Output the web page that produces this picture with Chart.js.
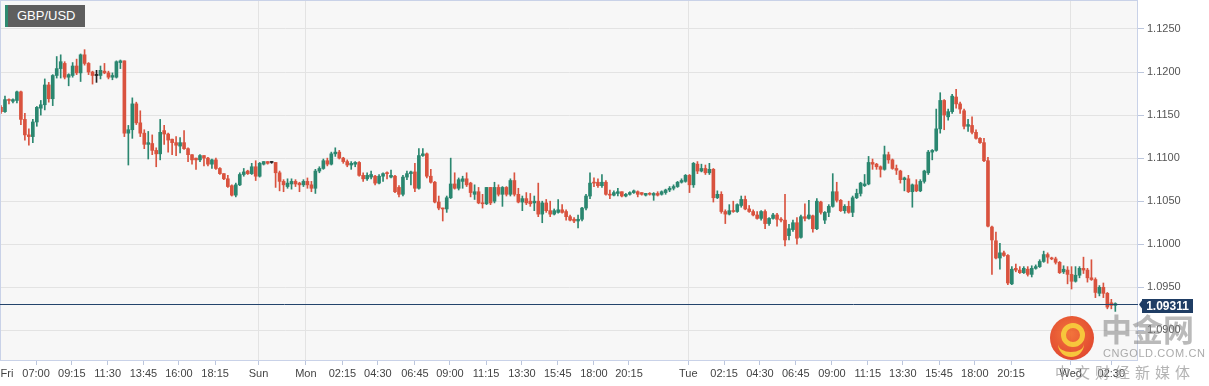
<!DOCTYPE html>
<html>
<head>
<meta charset="utf-8">
<script src="https://cdn.jsdelivr.net/npm/chart.js@4.4.1/dist/chart.umd.min.js"></script>
<style>
  html, body { margin: 0; padding: 0; background: #fff; }
  #wrap { position: relative; width: 1209px; height: 386px; overflow: hidden; font-family: "Liberation Sans", Arial, sans-serif; }
  #wrap canvas { position: absolute; left: 0; top: 0; }
  .tag { position: absolute; left: 5px; top: 5px; width: 80px; height: 22px; box-sizing: border-box;
         background: #5e5e5e; border-left: 3px solid #2e8a70; color: #fff; font-size: 13px; line-height: 22px; padding-left: 9px; }
  .wm { position: absolute; white-space: nowrap; pointer-events: none; }
  .logo { left: 1050px; top: 316px; width: 44px; height: 44px; border-radius: 50%;
          background: radial-gradient(circle at 45% 40%, #f26a2c, #d92a1a); opacity: 0.92; }
  .logo i { position: absolute; left: 11px; top: 7px; width: 14px; height: 14px; border: 5px solid #f7c22c; border-radius: 50%; }
  .logo b { position: absolute; left: 8px; top: 26px; width: 26px; height: 10px; border-bottom: 5px solid #f7c22c; border-radius: 0 0 20px 20px; }
</style>
</head>
<body>
<div id="wrap">
  <canvas id="chart" width="1209" height="386"></canvas>
  <div class="tag">GBP/USD</div>
  <div class="wm logo"><i></i><b></b></div>
  <div class="wm" style="left:1101px;top:312px;font:bold 31px 'Noto Sans CJK SC',sans-serif;line-height:1;color:rgba(130,130,130,0.55);">中金网</div>
  <div class="wm" style="left:1103px;top:347px;font-size:11px;letter-spacing:0.6px;color:rgba(150,150,150,0.8);">CNGOLD.COM.CN</div>
  <div class="wm" style="left:1055px;top:361px;font:15px 'Noto Sans CJK SC',sans-serif;letter-spacing:5px;color:rgba(160,160,160,0.8);">中文财经新媒体</div>
</div>
<script>
// GBP/USD 15 min candles, Fri 04:45 -> Wed 02:30
const opens = [
  1.1159,1.1154,1.1168,1.1166,1.1167,1.1177,1.1145,1.1127,1.1125,1.1142,
  1.1158,1.1162,1.1185,1.1169,1.1196,1.1204,1.1210,1.1194,1.1196,1.1207,
  1.1199,1.1220,1.1210,1.1200,1.1196,1.1196,1.1201,1.1199,1.1194,1.1194,
  1.1211,1.1213,1.1129,1.1133,1.1163,1.1141,1.1129,1.1116,1.1117,1.1109,
  1.1105,1.1132,1.1128,1.1122,1.1118,1.1114,1.1118,1.1111,1.1104,1.1100,
  1.1098,1.1103,1.1100,1.1093,1.1098,1.1088,1.1082,1.1076,1.1068,1.1057,
  1.1069,1.1081,1.1085,1.1082,1.1090,1.1079,1.1093,1.1096,1.1095,1.1095,
  1.1083,1.1073,1.1067,1.1070,1.1073,1.1071,1.1069,1.1073,1.1069,1.1065,
  1.1085,1.1088,1.1097,1.1093,1.1105,1.1107,1.1100,1.1096,1.1092,1.1093,
  1.1095,1.1080,1.1076,1.1078,1.1079,1.1071,1.1079,1.1083,1.1078,1.1079,
  1.1066,1.1058,1.1078,1.1082,1.1084,1.1065,1.1103,1.1105,1.1079,1.1072,
  1.1049,1.1042,1.1041,1.1054,1.1070,1.1065,1.1073,1.1076,1.1071,1.1058,
  1.1061,1.1048,1.1047,1.1066,1.1050,1.1066,1.1058,1.1066,1.1058,1.1074,
  1.1058,1.1049,1.1053,1.1050,1.1048,1.1050,1.1035,1.1048,1.1039,1.1035,
  1.1037,1.1040,1.1038,1.1032,1.1029,1.1027,1.1029,1.1042,1.1056,1.1072,
  1.1072,1.1068,1.1072,1.1058,1.1057,1.1059,1.1061,1.1056,1.1058,1.1060,
  1.1061,1.1060,1.1057,1.1059,1.1057,1.1059,1.1058,1.1060,1.1063,1.1065,
  1.1067,1.1072,1.1073,1.1080,1.1069,1.1093,1.1085,1.1088,1.1083,1.1087,
  1.1054,1.1058,1.1038,1.1035,1.1039,1.1038,1.1045,1.1052,1.1041,1.1038,
  1.1034,1.1030,1.1038,1.1024,1.1030,1.1034,1.1029,1.1028,1.1010,1.1017,
  1.1025,1.1008,1.1032,1.1030,1.1033,1.1018,1.1049,1.1028,1.1037,1.1044,
  1.1061,1.1051,1.1039,1.1044,1.1037,1.1054,1.1059,1.1068,1.1070,1.1095,
  1.1093,1.1090,1.1087,1.1104,1.1098,1.1088,1.1085,1.1075,1.1076,1.1061,
  1.1069,1.1062,1.1073,1.1083,1.1107,1.1109,1.1134,1.1167,1.1148,1.1154,
  1.1171,1.1163,1.1155,1.1137,1.1138,1.1130,1.1123,1.1118,1.1097,1.1020,
  1.1004,1.0984,1.0990,1.0987,1.0954,1.0972,1.0970,1.0967,1.0971,1.0965,
  1.0972,1.0974,1.0980,1.0988,1.0984,1.0983,1.0979,1.0968,1.0970,1.0965,
  1.0957,1.0964,1.0972,1.0970,1.0961,1.0959,1.0943,1.0950,1.0943,1.0932,1.0929
];
const highs = [
  1.1161,1.1172,1.1169,1.1169,1.1178,1.1178,1.1152,1.1134,1.1145,1.1160,
  1.1167,1.1192,1.1188,1.1197,1.1218,1.1220,1.1212,1.1198,1.1211,1.1215,
  1.1221,1.1226,1.1211,1.1201,1.1202,1.1207,1.1210,1.1201,1.1199,1.1213,
  1.1214,1.1213,1.1138,1.1170,1.1165,1.1155,1.1133,1.1131,1.1127,1.1112,
  1.1145,1.1138,1.1129,1.1122,1.1125,1.1124,1.1132,1.1112,1.1104,1.1100,
  1.1104,1.1103,1.1101,1.1099,1.1100,1.1089,1.1082,1.1080,1.1069,1.1071,
  1.1083,1.1088,1.1086,1.1094,1.1097,1.1095,1.1096,1.1096,1.1096,1.1095,
  1.1085,1.1075,1.1076,1.1076,1.1075,1.1072,1.1075,1.1077,1.1073,1.1087,
  1.1090,1.1099,1.1100,1.1107,1.1112,1.1109,1.1101,1.1098,1.1096,1.1096,
  1.1096,1.1083,1.1083,1.1085,1.1080,1.1081,1.1083,1.1084,1.1086,1.1080,
  1.1068,1.1080,1.1085,1.1085,1.1094,1.1111,1.1111,1.1106,1.1087,1.1073,
  1.1056,1.1042,1.1056,1.1100,1.1083,1.1077,1.1079,1.1083,1.1072,1.1069,
  1.1066,1.1058,1.1066,1.1066,1.1072,1.1069,1.1067,1.1067,1.1076,1.1083,
  1.1065,1.1056,1.1060,1.1059,1.1056,1.1071,1.1050,1.1052,1.1050,1.1041,
  1.1052,1.1046,1.1040,1.1034,1.1031,1.1034,1.1043,1.1058,1.1083,1.1077,
  1.1076,1.1081,1.1074,1.1063,1.1062,1.1065,1.1061,1.1059,1.1061,1.1063,
  1.1062,1.1060,1.1059,1.1060,1.1060,1.1061,1.1062,1.1064,1.1067,1.1069,
  1.1073,1.1076,1.1081,1.1081,1.1095,1.1096,1.1093,1.1092,1.1094,1.1088,
  1.1062,1.1061,1.1040,1.1046,1.1050,1.1047,1.1056,1.1056,1.1045,1.1040,
  1.1038,1.1039,1.1040,1.1031,1.1036,1.1036,1.1031,1.1058,1.1023,1.1028,
  1.1031,1.1034,1.1047,1.1051,1.1034,1.1053,1.1050,1.1038,1.1046,1.1082,
  1.1072,1.1052,1.1046,1.1050,1.1056,1.1064,1.1072,1.1081,1.1102,1.1099,
  1.1094,1.1091,1.1114,1.1107,1.1099,1.1092,1.1086,1.1078,1.1080,1.1070,
  1.1075,1.1075,1.1086,1.1109,1.1110,1.1157,1.1176,1.1168,1.1157,1.1174,
  1.1180,1.1165,1.1157,1.1145,1.1148,1.1133,1.1124,1.1123,1.1101,1.1021,
  1.1014,1.1001,1.0992,1.0988,1.0974,1.0977,1.0974,1.0974,1.0974,1.0975,
  1.0976,1.0982,1.0992,1.0990,1.0985,1.0985,1.0980,1.0975,1.0974,1.0974,
  1.0974,1.0974,1.0985,1.0972,1.0982,1.0961,1.0952,1.0955,1.0944,1.0936,1.0932
];
const lows = [
  1.1152,1.1153,1.1163,1.1164,1.1164,1.1139,1.1121,1.1115,1.1118,1.1137,
  1.1150,1.1156,1.1165,1.1161,1.1193,1.1193,1.1192,1.1184,1.1194,1.1197,
  1.1189,1.1208,1.1197,1.1186,1.1188,1.1192,1.1198,1.1192,1.1191,1.1193,
  1.1204,1.1125,1.1092,1.1123,1.1139,1.1125,1.1111,1.1099,1.1104,1.1090,
  1.1098,1.1116,1.1107,1.1104,1.1103,1.1106,1.1110,1.1096,1.1093,1.1087,
  1.1096,1.1091,1.1091,1.1088,1.1087,1.1081,1.1075,1.1066,1.1056,1.1055,
  1.1068,1.1079,1.1081,1.1081,1.1074,1.1078,1.1092,1.1093,1.1094,1.1066,
  1.1062,1.1061,1.1065,1.1064,1.1067,1.1061,1.1067,1.1065,1.1061,1.1059,
  1.1083,1.1087,1.1091,1.1092,1.1102,1.1099,1.1094,1.1090,1.1087,1.1090,
  1.1079,1.1073,1.1074,1.1076,1.1069,1.1070,1.1073,1.1076,1.1077,1.1060,
  1.1055,1.1056,1.1075,1.1069,1.1061,1.1064,1.1102,1.1077,1.1071,1.1048,
  1.1040,1.1027,1.1037,1.1053,1.1064,1.1063,1.1065,1.1067,1.1055,1.1052,
  1.1047,1.1042,1.1046,1.1046,1.1048,1.1056,1.1044,1.1056,1.1056,1.1056,
  1.1048,1.1039,1.1046,1.1044,1.1039,1.1032,1.1025,1.1037,1.1032,1.1034,
  1.1036,1.1036,1.1028,1.1027,1.1025,1.1019,1.1027,1.1040,1.1053,1.1067,
  1.1066,1.1066,1.1057,1.1053,1.1056,1.1056,1.1055,1.1055,1.1057,1.1059,
  1.1055,1.1057,1.1056,1.1057,1.1051,1.1056,1.1057,1.1058,1.1061,1.1063,
  1.1066,1.1071,1.1072,1.1060,1.1066,1.1082,1.1084,1.1081,1.1081,1.1049,
  1.1053,1.1036,1.1024,1.1034,1.1037,1.1037,1.1043,1.1040,1.1037,1.1033,
  1.1029,1.1028,1.1018,1.1022,1.1029,1.1021,1.1026,1.0998,1.1005,1.1015,
  1.1000,1.1007,1.1027,1.1029,1.1014,1.1017,1.1035,1.1024,1.1032,1.1043,
  1.1049,1.1038,1.1036,1.1036,1.1032,1.1053,1.1056,1.1067,1.1069,1.1087,
  1.1087,1.1078,1.1086,1.1094,1.1087,1.1081,1.1071,1.1062,1.1060,1.1043,
  1.1061,1.1061,1.1071,1.1081,1.1098,1.1108,1.1129,1.1133,1.1144,1.1152,
  1.1158,1.1152,1.1134,1.1131,1.1128,1.1122,1.1117,1.1096,1.1020,1.0965,
  1.0983,1.0971,1.0986,1.0953,1.0953,1.0968,1.0966,1.0966,1.0963,1.0962,
  1.0971,1.0973,1.0979,1.0978,1.0982,1.0977,1.0966,1.0966,1.0954,1.0948,
  1.0956,1.0961,1.0966,1.0956,1.0958,1.0938,1.0940,1.0938,1.0925,1.0925,1.0922
];
const closes = [
  1.1154,1.1168,1.1167,1.1168,1.1177,1.1145,1.1127,1.1125,1.1142,1.1159,
  1.1162,1.1185,1.1169,1.1196,1.1204,1.1212,1.1194,1.1197,1.1207,1.1199,
  1.1220,1.1210,1.1200,1.1196,1.1196,1.1202,1.1199,1.1194,1.1196,1.1212,
  1.1213,1.1129,1.1133,1.1163,1.1141,1.1129,1.1116,1.1118,1.1109,1.1105,
  1.1130,1.1128,1.1121,1.1118,1.1115,1.1118,1.1111,1.1104,1.1098,1.1098,
  1.1103,1.1100,1.1093,1.1098,1.1088,1.1082,1.1076,1.1067,1.1057,1.1069,
  1.1081,1.1084,1.1082,1.1090,1.1079,1.1094,1.1096,1.1094,1.1095,1.1083,
  1.1073,1.1069,1.1071,1.1073,1.1070,1.1069,1.1073,1.1069,1.1065,1.1085,
  1.1088,1.1097,1.1093,1.1105,1.1107,1.1100,1.1096,1.1092,1.1094,1.1095,
  1.1080,1.1076,1.1080,1.1081,1.1071,1.1079,1.1082,1.1082,1.1080,1.1061,
  1.1058,1.1078,1.1082,1.1084,1.1065,1.1103,1.1105,1.1079,1.1072,1.1049,
  1.1042,1.1041,1.1054,1.1070,1.1065,1.1075,1.1076,1.1069,1.1060,1.1061,
  1.1048,1.1047,1.1066,1.1048,1.1066,1.1058,1.1066,1.1058,1.1074,1.1058,
  1.1049,1.1053,1.1048,1.1047,1.1050,1.1035,1.1048,1.1039,1.1035,1.1039,
  1.1040,1.1037,1.1032,1.1028,1.1027,1.1029,1.1042,1.1056,1.1071,1.1071,
  1.1068,1.1072,1.1058,1.1057,1.1060,1.1061,1.1056,1.1058,1.1060,1.1062,
  1.1058,1.1058,1.1059,1.1058,1.1059,1.1057,1.1061,1.1063,1.1065,1.1067,
  1.1072,1.1074,1.1080,1.1069,1.1094,1.1085,1.1088,1.1083,1.1087,1.1054,
  1.1058,1.1038,1.1035,1.1039,1.1038,1.1046,1.1052,1.1041,1.1038,1.1034,
  1.1030,1.1038,1.1024,1.1030,1.1034,1.1029,1.1028,1.1005,1.1018,1.1025,
  1.1007,1.1032,1.1030,1.1034,1.1018,1.1050,1.1037,1.1037,1.1044,1.1061,
  1.1051,1.1039,1.1044,1.1037,1.1054,1.1059,1.1071,1.1070,1.1095,1.1093,
  1.1090,1.1087,1.1104,1.1098,1.1088,1.1086,1.1075,1.1077,1.1061,1.1069,
  1.1062,1.1073,1.1085,1.1107,1.1109,1.1134,1.1167,1.1150,1.1154,1.1172,
  1.1163,1.1157,1.1137,1.1139,1.1130,1.1123,1.1118,1.1097,1.1021,1.1005,
  1.0984,1.0990,1.0987,1.0955,1.0971,1.0970,1.0967,1.0972,1.0965,1.0972,
  1.0974,1.0980,1.0988,1.0985,1.0983,1.0979,1.0967,1.0971,1.0965,1.0957,
  1.0964,1.0972,1.0970,1.0961,1.0959,1.0944,1.0950,1.0943,1.0927,1.0929,1.09311
];

// x axis: tick positions in candle index units, and their labels
const xTickPos = [1.5, 8.8, 17.8, 26.8, 35.8, 44.7, 53.8, 64.7, 76.6, 85.8, 94.7, 104, 112.8, 121.9, 130.9,
                  139.9, 149, 157.8, 172.7, 181.7, 190.7, 199.7, 208.8, 217.8, 226.6, 235.7, 244.7, 253.8, 268.8, 279];
const xTickLabels = ['Fri', '07:00', '09:15', '11:30', '13:45', '16:00', '18:15', 'Sun', 'Mon', '02:15', '04:30', '06:45',
                     '09:00', '11:15', '13:30', '15:45', '18:00', '20:15', 'Tue', '02:15', '04:30', '06:45', '09:00',
                     '11:15', '13:30', '15:45', '18:00', '20:15', 'Wed', '02:30'];
const dayLabels = ['Sun', 'Mon', 'Tue', 'Wed'];
const yTicks = [1.0900, 1.0950, 1.1000, 1.1050, 1.1100, 1.1150, 1.1200, 1.1250];
const yMin = 1.08644, yMax = 1.12825;
const xMax = 285.7;

const UP = '#2b8770', DOWN = '#d9533f', FLAT = '#222222';
const colorAt = i => closes[i] > opens[i] ? UP : (closes[i] < opens[i] ? DOWN : FLAT);

const wicks = closes.map((c, i) => ({ x: i, y: [lows[i], highs[i]] }));
const bodies = closes.map((c, i) => ({ x: i, y: [opens[i], c] }));

const frame = {
  id: 'frame',
  beforeDraw(chart) {
    const { ctx, chartArea: a } = chart;
    ctx.save();
    ctx.fillStyle = '#f7f7f7';
    ctx.fillRect(a.left, a.top, a.right - a.left, a.bottom - a.top);
    ctx.restore();
  },
  beforeDatasetsDraw(chart) {
    const { ctx, chartArea: a } = chart;
    ctx.save();
    ctx.strokeStyle = '#c9d2e8';
    ctx.lineWidth = 1;
    ctx.strokeRect(a.left - 0.5, a.top - 0.5, a.right - a.left, a.bottom - a.top);
    ctx.restore();
  },
  afterDatasetsDraw(chart) {
    // last price line + label
    const { ctx, chartArea: a, scales } = chart;
    const last = closes[closes.length - 1];
    const y = Math.round(scales.y.getPixelForValue(last)) + 0.5;
    ctx.save();
    ctx.strokeStyle = '#24446c';
    ctx.lineWidth = 1;
    ctx.beginPath();
    ctx.moveTo(a.left - 1, y);
    ctx.lineTo(a.right, y);
    ctx.stroke();
    ctx.fillStyle = '#1f3d64';
    ctx.beginPath();
    ctx.moveTo(a.right + 1, y);
    ctx.lineTo(a.right + 4, y - 4);
    ctx.lineTo(a.right + 4, y + 4);
    ctx.closePath();
    ctx.fill();
    ctx.fillRect(a.right + 4, y - 5.5, 51, 14);
    ctx.fillStyle = '#fff';
    ctx.font = 'bold 12px "Liberation Sans", Arial, sans-serif';
    ctx.textAlign = 'center';
    ctx.textBaseline = 'middle';
    ctx.fillText(last.toFixed(5), a.right + 29.5, y + 2);
    ctx.restore();
  }
};

new Chart(document.getElementById('chart'), {
  type: 'bar',
  data: {
    datasets: [
      {
        label: 'wick',
        data: wicks,
        backgroundColor: ctx => colorAt(ctx.dataIndex),
        barThickness: 1,
        grouped: false,
        borderWidth: 0
      },
      {
        label: 'body',
        data: bodies,
        backgroundColor: ctx => colorAt(ctx.dataIndex),
        barThickness: 3,
        minBarLength: 1,
        grouped: false,
        borderWidth: 0
      }
    ]
  },
  options: {
    responsive: false,
    animation: false,
    devicePixelRatio: 1,
    layout: { padding: { left: 1, top: 1, right: 0, bottom: 0 } },
    plugins: { legend: { display: false }, tooltip: { enabled: false } },
    scales: {
      x: {
        type: 'linear',
        offset: false,
        min: 0,
        max: xMax,
        afterBuildTicks: s => { s.ticks = xTickPos.map(v => ({ value: v })); },
        afterFit: s => { s.height = 25; s.paddingLeft = 0; s.paddingRight = 0; },
        border: { display: false },
        grid: {
          offset: false,
          color: ctx => dayLabels.includes(xTickLabels[ctx.index]) ? '#e3e3e3' : 'rgba(0,0,0,0)',
          tickColor: ctx => ctx.index === 0 ? 'rgba(0,0,0,0)' : '#bcc6dc',
          tickLength: 4
        },
        ticks: {
          autoSkip: false,
          maxRotation: 0,
          padding: 2,
          color: '#444',
          font: { size: 11, family: '"Liberation Sans", Arial, sans-serif' },
          callback: (v, i) => xTickLabels[i]
        }
      },
      y: {
        position: 'right',
        min: yMin,
        max: yMax,
        afterBuildTicks: s => { s.ticks = yTicks.map(v => ({ value: v })); },
        afterFit: s => { s.width = 71; s.paddingTop = 0; s.paddingBottom = 0; },
        border: { display: false },
        grid: { color: '#e3e3e3', tickColor: '#bcc6dc', tickLength: 6 },
        ticks: {
          padding: 3,
          color: '#555',
          font: { size: 11, family: '"Liberation Sans", Arial, sans-serif' },
          callback: v => v.toFixed(4)
        }
      }
    }
  },
  plugins: [frame]
});
</script>
</body>
</html>
